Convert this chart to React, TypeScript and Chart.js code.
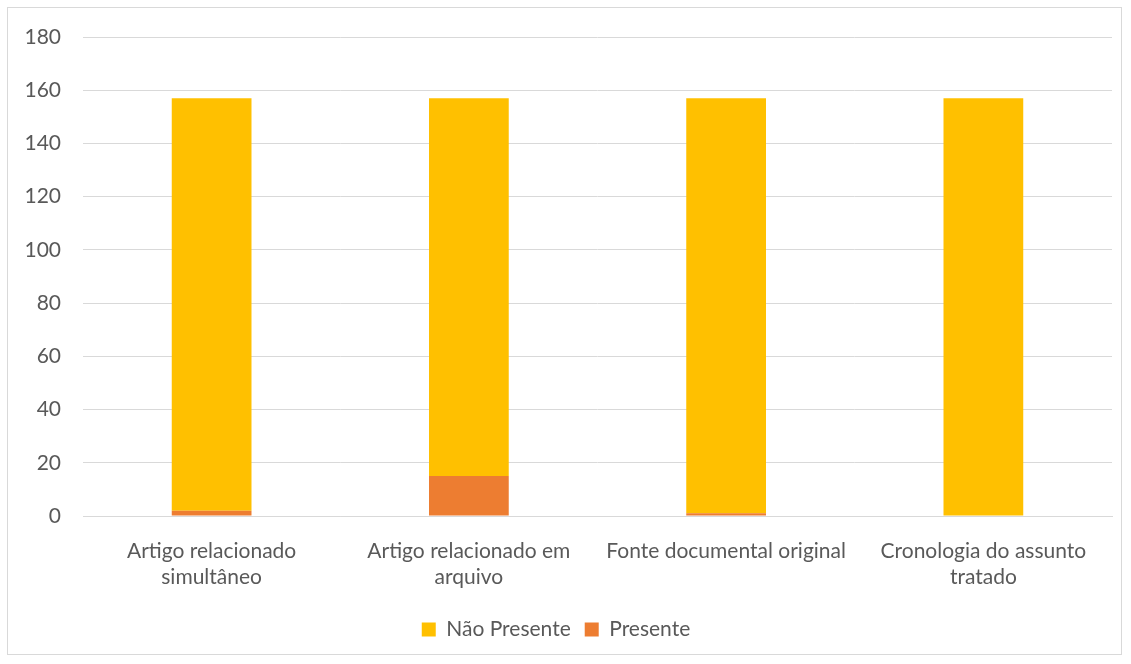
import React, { useEffect, useRef } from "react";
import { Chart, registerables } from "chart.js";

Chart.register(...registerables);

const categories: (string | string[])[] = [
  ["Artigo relacionado", "simultâneo"],
  ["Artigo relacionado em", "arquivo"],
  "Fonte documental original",
  ["Cronologia do assunto", "tratado"],
];
const presente = [2, 15, 1, 0];
const naoPresente = [155, 142, 156, 157];
const yTicks = { min: 0, max: 180, step: 20 };

const TEXT = "#595959";
const FONT = "Lato, 'Open Sans', sans-serif";

export default function App() {
  const ref = useRef<HTMLCanvasElement | null>(null);
  useEffect(() => {
    document.body.style.margin = "0";
    if (!ref.current) return;
    const chart = new Chart(ref.current, {
      type: "bar",
      data: {
        labels: categories,
        datasets: [
          {
            label: "Presente",
            data: presente,
            backgroundColor: "#ED7D31",
            barPercentage: 0.31,
            categoryPercentage: 1,
          },
          {
            label: "Não Presente",
            data: naoPresente,
            backgroundColor: "#FFC000",
            barPercentage: 0.31,
            categoryPercentage: 1,
          },
        ],
      },
      options: {
        animation: false,
        responsive: false,
        maintainAspectRatio: false,
        layout: { padding: { left: 0, right: 19, top: 37, bottom: 14 } },
        scales: {
          x: {
            stacked: true,
            grid: { display: false, drawTicks: false },
            border: { display: true, color: "#d9d9d9", width: 1 },
            ticks: {
              color: TEXT,
              font: { family: FONT, size: 21, lineHeight: 1.25 },
              padding: 22,
              maxRotation: 0,
              autoSkip: false,
            },
            afterFit: (scale: any) => {
              scale.height = 89;
            },
          },
          y: {
            stacked: true,
            min: yTicks.min,
            max: yTicks.max,
            grid: { color: "#d9d9d9", drawTicks: false },
            border: { display: false },
            ticks: {
              stepSize: yTicks.step,
              color: TEXT,
              font: { family: FONT, size: 21 },
              padding: 22,
            },
            afterFit: (scale: any) => {
              scale.width = 83;
            },
          },
        },
        plugins: {
          legend: {
            position: "bottom",
            reverse: true,
            labels: {
              color: TEXT,
              font: { family: FONT, size: 21 },
              boxWidth: 14,
              boxHeight: 14,
              padding: 14,
            },
          },
          tooltip: { enabled: false },
        },
      },
    });
    return () => chart.destroy();
  }, []);
  return (
    <div style={{ position: "relative", width: 1131, height: 664, background: "#fff" }}>
      <div
        style={{
          position: "absolute",
          left: 7,
          top: 7,
          width: 1115,
          height: 648,
          border: "1px solid #d9d9d9",
          boxSizing: "border-box",
        }}
      />
      <canvas ref={ref} width={1131} height={664} style={{ position: "absolute", left: 0, top: 0 }} />
    </div>
  );
}
